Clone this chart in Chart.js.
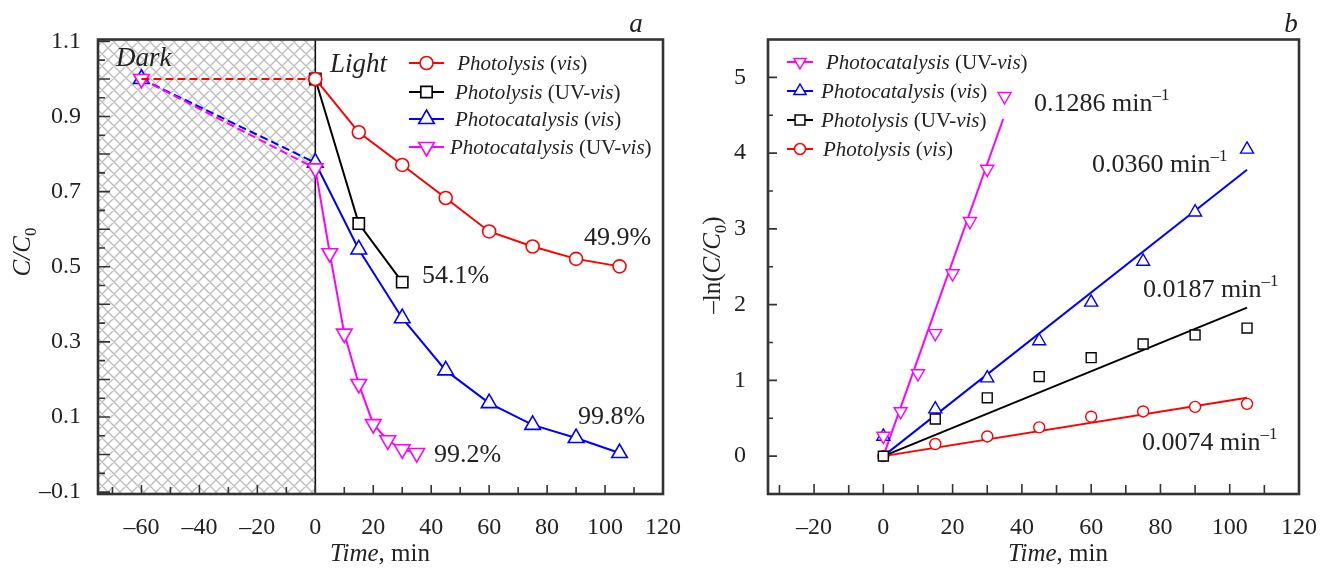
<!DOCTYPE html>
<html><head><meta charset="utf-8">
<script src="https://cdn.jsdelivr.net/npm/chart.js@4.4.1/dist/chart.umd.min.js"></script>
<style>
html,body{margin:0;padding:0;background:#fff;}
#wrap{position:relative;width:1328px;height:569px;overflow:hidden;}
canvas{position:absolute;top:0;}
#ca{left:0;width:700px;height:569px;}
#cb{left:700px;width:628px;height:569px;}
</style></head><body>
<div id="wrap"><canvas id="ca" width="700" height="569"></canvas><canvas id="cb" width="628" height="569"></canvas></div>
<script>
// ================= DATA =================
// Panel a: C/C0 vs time (min)
const aRedTime   = [-60, 0, 15, 30, 45, 60, 75, 90, 105];
const aRedC      = [1.0, 1.0, 0.858, 0.771, 0.683, 0.594, 0.554, 0.521, 0.501];
const aBlackTime = [0, 15, 30];
const aBlackC    = [1.0, 0.615, 0.459];
const aBlueTime  = [-60, 0, 15, 30, 45, 60, 75, 90, 105];
const aBlueC     = [1.0, 0.777, 0.546, 0.363, 0.224, 0.137, 0.079, 0.044, 0.004];
const aMagTime   = [-60, 0, 5, 10, 15, 20, 25, 30, 35];
const aMagC      = [1.0, 0.762, 0.536, 0.322, 0.188, 0.081, 0.038, 0.014, 0.004];

// Panel b: -ln(C/C0) vs time (min)
const bTime      = [0, 15, 30, 45, 60, 75, 90, 105];
const bRedL      = [0, 0.16, 0.26, 0.38, 0.52, 0.59, 0.65, 0.69];
const bBlackL    = [0, 0.49, 0.77, 1.05, 1.30, 1.48, 1.60, 1.69];
const bBlueL     = [0.26, 0.62, 1.03, 1.52, 2.03, 2.57, 3.22, 4.05];
const bMagTime   = [0, 5, 10, 15, 20, 25, 30, 35];
const bMagL      = [0.265, 0.59, 1.09, 1.62, 2.41, 3.10, 3.79, 4.75];
// fitted lines (end points)
const bFitMagTime = [0, 34.6],  bFitMagL = [0, 4.45];
const bFitBlueTime = [0, 105],  bFitBlueL = [0, 3.78];
const bFitBlackTime = [0, 105], bFitBlackL = [0, 1.96];
const bFitRedTime = [0, 105],   bFitRedL = [0, 0.77];

// tick labels
const aXTicks = [-60, -40, -20, 0, 20, 40, 60, 80, 100, 120];
const aYTicks = [-0.1, 0.1, 0.3, 0.5, 0.7, 0.9, 1.1];
const bXTicks = [-20, 0, 20, 40, 60, 80, 100, 120];
const bYTicks = [0, 1, 2, 3, 4, 5];

// texts ("i:" italic, "r:" roman, "b:" subscript, "p:" superscript)
const aLegend = ['r: |i:Photolysis|r: (|i:vis|r:)', 'i:Photolysis|r: (UV-|i:vis|r:)', 'i:Photocatalysis|r: (|i:vis|r:)', 'i:Photocatalysis|r: (UV-|i:vis|r:)'];
const bLegend = ['i:Photocatalysis|r: (UV-|i:vis|r:)', 'i:Photocatalysis|r: (|i:vis|r:)', 'i:Photolysis|r: (UV-|i:vis|r:)', 'i:Photolysis|r: (|i:vis|r:)'];
const aRemoval = ['49.9%', '54.1%', '99.8%', '99.2%'];
const bRates = ['0.1286', '0.0360', '0.0187', '0.0074'];

// ================= STYLE / HELPERS =================
const SERIF = "'Liberation Serif', 'Times New Roman', serif";
const TXT = '#222';
const RED = '#ff0000', BLACK = '#000000', BLUE = '#0000ff', MAG = '#ff00ff';
const pts = (xs, ys) => xs.map((x, i) => ({x: x, y: ys[i]}));
const fmt = v => (v < 0 ? '\u2013' : '') + Math.abs(v);
const fmt1 = v => (v < 0 ? '\u2013' : '') + Math.abs(v).toFixed(1);

function rich(ctx, spec, x, y, size, align, color) {
  const segs = spec.split('|').map(s => ({k: s[0], t: s.slice(2)}));
  const fontFor = k => (k === 'i' ? 'italic ' : '') + ((k === 'b' || k === 'p') ? Math.round(size * 0.66) : size) + 'px ' + SERIF;
  let w = 0;
  segs.forEach(s => { ctx.font = fontFor(s.k); s.w = ctx.measureText(s.t).width; w += s.w; });
  let cx = align === 'center' ? x - w / 2 : align === 'right' ? x - w : x;
  ctx.fillStyle = color || TXT; ctx.textBaseline = 'alphabetic'; ctx.textAlign = 'left';
  segs.forEach(s => {
    ctx.font = fontFor(s.k);
    const dy = s.k === 'b' ? size * 0.22 : s.k === 'p' ? -size * 0.42 : 0;
    ctx.fillText(s.t, cx, y + dy); cx += s.w;
  });
}

function marker(ctx, style, x, y, r, color, lw, rot) {
  ctx.save();
  ctx.beginPath();
  if (style === 'circle') ctx.arc(x, y, r, 0, Math.PI * 2);
  else if (style === 'rect') { const h = r * Math.SQRT1_2; ctx.rect(x - h, y - h, 2 * h, 2 * h); }
  else {
    const s = rot ? -1 : 1;
    ctx.moveTo(x, y - s * r); ctx.lineTo(x + 0.866 * r, y + s * 0.5 * r); ctx.lineTo(x - 0.866 * r, y + s * 0.5 * r); ctx.closePath();
  }
  ctx.fillStyle = '#fff'; ctx.fill();
  ctx.lineWidth = lw; ctx.strokeStyle = color; ctx.stroke();
  ctx.restore();
}

function frameAndTicks(chart, xTicks, yTicks) {
  const {ctx, chartArea: a, scales: {x, y}} = chart;
  ctx.save();
  ctx.strokeStyle = '#333'; ctx.lineWidth = 1.6;
  ctx.beginPath();
  xTicks.forEach(([v, len]) => { const px = x.getPixelForValue(v); ctx.moveTo(px, a.bottom); ctx.lineTo(px, a.bottom - len); });
  yTicks.forEach(([v, len]) => { const py = y.getPixelForValue(v); ctx.moveTo(a.left, py); ctx.lineTo(a.left + len, py); });
  ctx.stroke();
  ctx.lineWidth = 2.6;
  ctx.strokeRect(a.left, a.top, a.right - a.left, a.bottom - a.top);
  ctx.restore();
}

function lineDs(data, color, style, r, extra) {
  return Object.assign({
    data: data, borderColor: color, backgroundColor: color, borderWidth: 2,
    pointStyle: style, pointRadius: r, pointBorderColor: color, pointBackgroundColor: '#fff',
    pointBorderWidth: 1.6, tension: 0, fill: false,
    segment: { borderDash: c => (c.p1.parsed.x <= 0 ? [8, 4] : undefined) }
  }, extra || {});
}

function makeHatch() {
  const P = 12, c = document.createElement('canvas');
  c.width = P; c.height = P;
  const g = c.getContext('2d');
  g.fillStyle = '#fff'; g.fillRect(0, 0, P, P);
  g.strokeStyle = '#bcbcbc'; g.lineWidth = 1.3;
  g.beginPath();
  for (let o = -P; o <= P; o += P) {
    g.moveTo(o, 0); g.lineTo(o + P, P);
    g.moveTo(o, P); g.lineTo(o + P, 0);
  }
  g.stroke();
  return c;
}

function scaleOpts(min, max, tickVals, fmtFn, side, fitSize, pad) {
  return {
    type: 'linear', min: min, max: max,
    grid: {display: false}, border: {display: false},
    afterBuildTicks: s => { s.ticks = tickVals.map(v => ({value: v})); },
    afterFit: s => { if (side === 'x') s.height = fitSize; else s.width = fitSize; },
    ticks: {autoSkip: false, maxRotation: 0, padding: pad, color: TXT, font: {family: SERIF, size: 24}, callback: v => fmtFn(v)}
  };
}

// ================= PANEL A =================
const tickListA_X = [], tickListA_Y = [];
for (let v = -70; v <= 110; v += 10) tickListA_X.push([v, v % 20 === 0 ? 9 : 7]);
for (let k = -2; k <= 22; k++) { const v = k * 0.05; tickListA_Y.push([v, k % 2 === 0 ? 12 : 7]); }

const panelA = {
  id: 'panelA',
  beforeDatasetsDraw(chart) {
    const {ctx, chartArea: a, scales: {x}} = chart;
    ctx.save();
    ctx.fillStyle = ctx.createPattern(makeHatch(), 'repeat');
    const x0 = x.getPixelForValue(0);
    ctx.fillRect(a.left, a.top, x0 - a.left, a.bottom - a.top);
    ctx.strokeStyle = '#111'; ctx.lineWidth = 1.6;
    ctx.beginPath(); ctx.moveTo(x0, a.top); ctx.lineTo(x0, a.bottom); ctx.stroke();
    ctx.restore();
  },
  afterDraw(chart) {
    const {ctx} = chart;
    frameAndTicks(chart, tickListA_X, tickListA_Y);
    // annotations
    rich(ctx, 'i:Dark', 116, 66, 27, 'left');
    rich(ctx, 'i:Light', 330, 72, 27, 'left');
    rich(ctx, 'i:a', 636, 32, 27, 'center');
    rich(ctx, 'r:' + aRemoval[0], 584, 245, 26, 'left');
    rich(ctx, 'r:' + aRemoval[1], 422, 283, 26, 'left');
    rich(ctx, 'r:' + aRemoval[2], 578, 424, 26, 'left');
    rich(ctx, 'r:' + aRemoval[3], 434, 462, 26, 'left');
    // axis titles
    rich(ctx, 'i:Time|r:, min', 380, 561, 25, 'center');
    ctx.save(); ctx.translate(30, 252); ctx.rotate(-Math.PI / 2);
    rich(ctx, 'i:C/C|b:0', 0, 0, 25, 'center'); ctx.restore();
    // legend
    const L = [[RED, 'circle', 6.5, false, 63], [BLACK, 'rect', 8, false, 92], [BLUE, 'triangle', 9, false, 119], [MAG, 'triangle', 9, true, 147]];
    const tx = [452, 455, 455, 450];
    L.forEach(([c, st, r, rot, yy], i) => {
      ctx.save(); ctx.strokeStyle = c; ctx.lineWidth = 2;
      ctx.beginPath(); ctx.moveTo(409, yy); ctx.lineTo(444, yy); ctx.stroke(); ctx.restore();
      marker(ctx, st, 426.5, yy, r, c, 1.6, rot);
      rich(ctx, aLegend[i], tx[i], yy + 7, 21, 'left');
    });
  }
};

new Chart(document.getElementById('ca'), {
  type: 'line',
  data: { datasets: [
    lineDs(pts(aRedTime, aRedC), RED, 'circle', c => (c.raw && c.raw.x < 0 ? 0 : 6.5)),
    lineDs(pts(aBlackTime, aBlackC), BLACK, 'rect', 8),
    lineDs(pts(aMagTime, aMagC), MAG, 'triangle', 9, {pointRotation: 180}),
    lineDs(pts(aBlueTime, aBlueC), BLUE, 'triangle', 9)
  ]},
  options: {
    responsive: false, animation: false, devicePixelRatio: 1,
    plugins: {legend: {display: false}, tooltip: {enabled: false}},
    layout: {padding: {top: 39.5, right: 37, left: 0, bottom: 0}},
    scales: {
      x: scaleOpts(-75, 120, aXTicks, fmt, 'x', 75, 11),
      y: scaleOpts(-0.105, 1.105, aYTicks, fmt1, 'y', 98, 9)
    }
  },
  plugins: [panelA]
});

// ================= PANEL B =================
const OX = 700;
const tickListB_X = [], tickListB_Y = [];
for (let v = -30; v <= 110; v += 10) tickListB_X.push([v, v % 20 === 0 ? 10 : 9]);
for (let k = 0; k <= 10; k++) tickListB_Y.push([k * 0.5, k % 2 === 0 ? 9 : 5]);

const panelB = {
  id: 'panelB',
  afterDraw(chart) {
    const {ctx} = chart;
    frameAndTicks(chart, tickListB_X, tickListB_Y);
    rich(ctx, 'i:b', 1291 - OX, 32, 27, 'center');
    const rp = [[1034, 111], [1092, 172], [1143, 297], [1142, 450]];
    rp.forEach(([x, y], i) => rich(ctx, 'r:' + bRates[i] + ' min|p:\u20131', x - OX, y, 26, 'left'));
    rich(ctx, 'i:Time|r:, min', 1058 - OX, 561, 25, 'center');
    ctx.save(); ctx.translate(720 - OX, 265); ctx.rotate(-Math.PI / 2);
    rich(ctx, 'r:\u2013ln(|i:C/C|b:0|r:)', 0, 0, 25, 'center'); ctx.restore();
    const L = [[MAG, 'triangle', 7, true, 62], [BLUE, 'triangle', 7, false, 91], [BLACK, 'rect', 7, false, 120], [RED, 'circle', 5.5, false, 149]];
    const tx = [826, 821, 821, 823];
    L.forEach(([c, st, r, rot, yy], i) => {
      ctx.save(); ctx.strokeStyle = c; ctx.lineWidth = 2;
      ctx.beginPath(); ctx.moveTo(787 - OX, yy); ctx.lineTo(813 - OX, yy); ctx.stroke(); ctx.restore();
      marker(ctx, st, 800 - OX, yy, r, c, 1.5, rot);
      rich(ctx, bLegend[i], tx[i] - OX, yy + 7, 21, 'left');
    });
  }
};

const scat = (data, color, style, r, extra) => lineDs(data, color, style, r, Object.assign({showLine: false, pointBorderWidth: 1.4}, extra || {}));
const fit = (data, color) => lineDs(data, color, 'circle', 0, {borderWidth: 2});

new Chart(document.getElementById('cb'), {
  type: 'line',
  data: { datasets: [
    scat(pts(bMagTime, bMagL), MAG, 'triangle', 7.5, {pointRotation: 180}),
    scat(pts(bTime, bBlueL), BLUE, 'triangle', 7.5),
    scat(pts(bTime, bBlackL), BLACK, 'rect', 7),
    scat(pts(bTime, bRedL), RED, 'circle', 5.5),
    fit(pts(bFitMagTime, bFitMagL), MAG),
    fit(pts(bFitBlueTime, bFitBlueL), BLUE),
    fit(pts(bFitBlackTime, bFitBlackL), BLACK),
    fit(pts(bFitRedTime, bFitRedL), RED)
  ]},
  options: {
    responsive: false, animation: false, devicePixelRatio: 1,
    plugins: {legend: {display: false}, tooltip: {enabled: false}},
    layout: {padding: {top: 39.5, right: 22, left: 0, bottom: 0}},
    scales: {
      x: scaleOpts(-33.3, 120, bXTicks, fmt, 'x', 75, 11),
      y: scaleOpts(-0.5, 5.5, bYTicks, fmt, 'y', 68, 14)
    }
  },
  plugins: [panelB]
});
</script>
</body></html>
